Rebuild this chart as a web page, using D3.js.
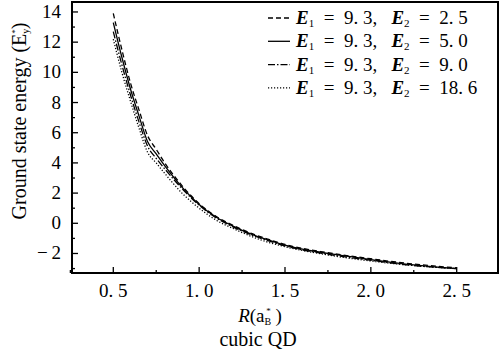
<!DOCTYPE html>
<html>
<head>
<meta charset="utf-8">
<script src="https://cdn.jsdelivr.net/npm/d3@7"></script>
<style>
  body { margin: 0; background: #fff; }
</style>
</head>
<body>
<div id="chart"></div>
<script>
// radius R in units of a_B*
const radii = [0.5, 0.55, 0.6, 0.65, 0.7, 0.75, 0.8, 0.9, 1.0, 1.1, 1.2, 1.3, 1.4, 1.5, 1.75, 2.0, 2.25, 2.5];

// ground state energy per E2 value
const energyE2_2_5  = [13.9, 11.5, 9.3, 7.5, 5.8, 4.9, 4.0, 2.5, 1.3, 0.45, -0.15, -0.65, -1.05, -1.4, -1.95, -2.35, -2.7, -2.95];
const energyE2_5_0  = [13.3, 11.0, 8.9, 7.1, 5.4, 4.6, 3.8, 2.4, 1.25, 0.4, -0.2, -0.7, -1.1, -1.45, -2.0, -2.4, -2.75, -3.0];
const energyE2_9_0  = [12.7, 10.5, 8.5, 6.7, 5.1, 4.3, 3.6, 2.3, 1.2, 0.35, -0.25, -0.75, -1.15, -1.5, -2.05, -2.45, -2.8, -3.0];
const energyE2_18_6 = [12.2, 10.0, 8.1, 6.3, 4.7, 4.0, 3.3, 2.0, 1.0, 0.2, -0.35, -0.85, -1.25, -1.55, -2.1, -2.5, -2.8, -3.0];

const seriesE2 = ['2. 5', '5. 0', '9. 0', '18. 6'];
const seriesDash = ['5,3', null, '7,2,1.5,2', '1.2,1.8'];

const xTicks = [0.5, 1.0, 1.5, 2.0, 2.5];
const xTickLabels = ['0. 5', '1. 0', '1. 5', '2. 0', '2. 5'];
const yTicks = [-2, 0, 2, 4, 6, 8, 10, 12, 14];

const width = 503, height = 351;
const plot = { left: 72, top: 2, right: 498, bottom: 273 };
const serif = 'Liberation Serif';

const svg = d3.select('#chart').append('svg')
  .attr('width', width)
  .attr('height', height);

const x = d3.scaleLinear().domain([0.2595, 2.7405]).range([plot.left, plot.right]);
const y = d3.scaleLinear().domain([-3.293, 14.66]).range([plot.bottom, plot.top]);

// --- ticks (inside) ---
const xMinor = d3.range(0.25, 2.75, 0.25).filter(v => !xTicks.some(t => Math.abs(t - v) < 1e-6));
const yMinor = d3.range(-3, 15, 1).filter(v => !yTicks.includes(v));

const tickG = svg.append('g').attr('stroke', '#000').attr('stroke-width', 1.3);
tickG.selectAll('.xmaj').data(xTicks).join('line')
  .attr('class', 'xmaj')
  .attr('x1', d => x(d)).attr('x2', d => x(d))
  .attr('y1', plot.bottom).attr('y2', plot.bottom - 6);
tickG.selectAll('.xmin').data(xMinor).join('line')
  .attr('class', 'xmin')
  .attr('x1', d => x(d)).attr('x2', d => x(d))
  .attr('y1', plot.bottom).attr('y2', plot.bottom - 3);
tickG.selectAll('.ymaj').data(yTicks).join('line')
  .attr('class', 'ymaj')
  .attr('x1', plot.left).attr('x2', plot.left + 6)
  .attr('y1', d => y(d)).attr('y2', d => y(d));
tickG.selectAll('.ymin').data(yMinor).join('line')
  .attr('class', 'ymin')
  .attr('x1', plot.left).attr('x2', plot.left + 3)
  .attr('y1', d => y(d)).attr('y2', d => y(d));

// frame
svg.append('rect')
  .attr('x', plot.left).attr('y', plot.top)
  .attr('width', plot.right - plot.left)
  .attr('height', plot.bottom - plot.top)
  .attr('fill', 'none')
  .attr('stroke', '#000')
  .attr('stroke-width', 2);

// tick labels
svg.append('g').selectAll('text').data(xTicks).join('text')
  .style('font-family', serif)
  .attr('x', d => x(d))
  .attr('y', 297)
  .attr('text-anchor', 'middle')
  .attr('font-size', 19)
  .text((d, i) => xTickLabels[i]);

svg.append('g').selectAll('text').data(yTicks).join('text')
  .style('font-family', serif)
  .attr('x', 61)
  .attr('y', d => y(d) + 6)
  .attr('text-anchor', 'end')
  .attr('font-size', 19)
  .text(d => d < 0 ? '\u2212\u2009' + Math.abs(d) : d);

// --- curves ---
const line = d3.line()
  .x(d => x(d[0]))
  .y(d => y(d[1]))
  .curve(d3.curveMonotoneX);

const allSeries = [energyE2_2_5, energyE2_5_0, energyE2_9_0, energyE2_18_6];
svg.append('g').selectAll('path')
  .data(allSeries)
  .join('path')
  .attr('d', vals => line(radii.map((r, i) => [r, vals[i]])))
  .attr('fill', 'none')
  .attr('stroke', '#000')
  .attr('stroke-width', 1.3)
  .attr('stroke-dasharray', (d, i) => seriesDash[i]);

// --- legend ---
const legend = svg.append('g');
seriesE2.forEach((e2, i) => {
  const ly = 18 + i * 23.3;
  legend.append('line')
    .attr('x1', 268).attr('x2', 290)
    .attr('y1', ly).attr('y2', ly)
    .attr('stroke', '#000')
    .attr('stroke-width', 1.3)
    .attr('stroke-dasharray', seriesDash[i]);
  const t = legend.append('text')
    .style('font-family', serif)
    .attr('x', 296).attr('y', ly + 6)
    .attr('font-size', 19);
  t.append('tspan').attr('font-style', 'italic').attr('font-weight', 'bold').text('E');
  t.append('tspan').attr('font-size', 11).attr('dy', 3).text('1');
  t.append('tspan').attr('dy', -3).text('\u2002=\u20029. 3,\u2002 ');
  t.append('tspan').attr('font-style', 'italic').attr('font-weight', 'bold').text('E');
  t.append('tspan').attr('font-size', 11).attr('dy', 3).text('2');
  t.append('tspan').attr('dy', -3).text('\u2002=\u2002' + e2);
});

// --- axis titles ---
const xt = svg.append('text')
  .style('font-family', serif)
  .attr('x', 260).attr('y', 322)
  .attr('text-anchor', 'middle')
  .attr('font-size', 19);
xt.append('tspan').attr('font-style', 'italic').text('R');
xt.append('tspan').text('(a');
xt.append('tspan').attr('font-size', 10).attr('dy', 3).text('B');
xt.append('tspan').attr('font-size', 9).attr('dx', -5).attr('dy', -11).text('*');
xt.append('tspan').attr('dy', 8).text(' )');

svg.append('text')
  .style('font-family', serif)
  .attr('x', 258).attr('y', 346)
  .attr('text-anchor', 'middle')
  .attr('font-size', 20)
  .text('cubic QD');

const yt = svg.append('text')
  .style('font-family', serif)
  .attr('transform', 'translate(26,121) rotate(-90)')
  .attr('text-anchor', 'middle')
  .attr('font-size', 20);
yt.append('tspan').text('Ground state energy (E');
yt.append('tspan').attr('font-size', 10).attr('dy', 3).text('y');
yt.append('tspan').attr('font-size', 9).attr('dx', -5).attr('dy', -11).text('*');
yt.append('tspan').attr('dy', 8).text(')');
</script>
</body>
</html>
